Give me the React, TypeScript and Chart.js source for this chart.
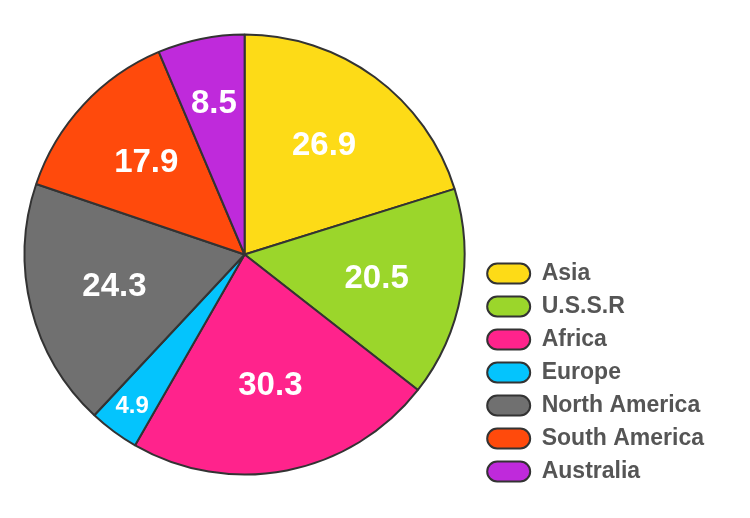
import React, { useEffect, useRef } from "react";
import { Chart, registerables } from "chart.js";

Chart.register(...registerables);

const categories = ["Asia", "U.S.S.R", "Africa", "Europe", "North America", "South America", "Australia"];
const values = [26.9, 20.5, 30.3, 4.9, 24.3, 17.9, 8.5];
const colors = ["#FDDB17", "#9BD62B", "#FF238C", "#04C4FD", "#707070", "#FF4A0C", "#BF2ADB"];

const FONT = '"Liberation Sans", Arial, sans-serif';

const sliceLabels = {
  id: "sliceLabels",
  afterDatasetsDraw(chart: any) {
    const { ctx } = chart;
    const meta = chart.getDatasetMeta(0);
    const total = values.reduce((a, b) => a + b, 0);
    ctx.save();
    ctx.fillStyle = "#ffffff";
    ctx.textAlign = "center";
    ctx.textBaseline = "middle";
    meta.data.forEach((arc: any, i: number) => {
      const { x, y, startAngle, endAngle, outerRadius } = arc.getProps(["x", "y", "startAngle", "endAngle", "outerRadius"], true);
      const f = values[i] / total;
      const mid = (startAngle + endAngle) / 2;
      const frac = f < 0.05 ? 0.86 : f < 0.1 ? 0.7 : 0.61;
      const size = f < 0.05 ? 24 : 33;
      ctx.font = `bold ${size}px ${FONT}`;
      ctx.fillText(String(values[i]), x + Math.cos(mid) * outerRadius * frac, y + Math.sin(mid) * outerRadius * frac);
    });
    ctx.restore();
  },
};

export default function App() {
  const ref = useRef<HTMLCanvasElement>(null);
  useEffect(() => {
    const chart = new Chart(ref.current!, {
      type: "pie",
      data: {
        labels: categories,
        datasets: [
          {
            data: values,
            backgroundColor: colors,
            borderColor: "#333333",
            borderWidth: 2,
          },
        ],
      },
      options: {
        animation: false,
        responsive: true,
        maintainAspectRatio: false,
        radius: 220,
        layout: { padding: { left: 12, top: 16, bottom: 25, right: 36 } },
        plugins: {
          tooltip: { enabled: false },
          legend: {
            position: "right",
            align: "end",
            labels: {
              boxWidth: 43,
              boxHeight: 20,
              padding: 10,
              color: "#555555",
              font: { family: FONT, size: 23, weight: "bold" },
              useBorderRadius: true,
              borderRadius: 10,
              generateLabels() {
                return categories.map((name, i) => ({
                  text: name,
                  fillStyle: colors[i],
                  strokeStyle: "#333333",
                  lineWidth: 2,
                  fontColor: "#555555",
                  hidden: false,
                  index: i,
                  borderRadius: 10,
                }));
              },
            },
          },
        },
      },
      plugins: [sliceLabels],
    });
    return () => chart.destroy();
  }, []);
  return (
    <div style={{ position: "fixed", left: 0, top: 0, width: 750, height: 518 }}>
      <canvas ref={ref} />
    </div>
  );
}
